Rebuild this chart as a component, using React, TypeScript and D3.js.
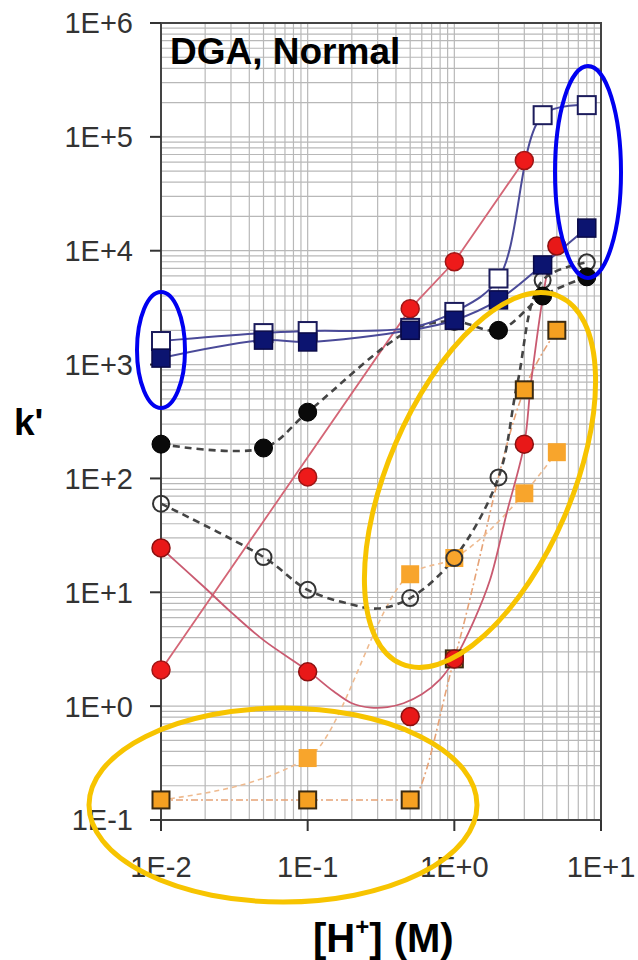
import React from 'react';
import * as d3 from 'd3';

// ---- data ----
const hAll = [0.01, 0.05, 0.1, 0.5, 1, 2, 4, 8];
const openSquareK = [1610, 1890, 1970, 2100, 2900, 5700, 155000, 190000];
const filledSquareK = [1140, 1640, 1580, 2000, 2450, 3700, 7500, 15800];
const blackCircleK = [200, 185, 382, 2000, 2400, 2000, 4000, 5900];
const openCircleK = [60, 20.4, 10.5, 8.9, 20, 102, 5500, 7900];
const openCircleFitH = [0.01, 0.05, 0.1, 0.2, 0.3, 0.5, 1, 2, 2.7, 4, 8];
const openCircleFitK = [60, 20.4, 10.5, 7.8, 7.2, 8.9, 20, 102, 700, 5500, 7900];

const redLineH = [0.01, 0.1, 0.5, 1, 3];
const redLineK = [2.08, 103, 3100, 8000, 62000];
const redLineFitH = [0.01, 0.5, 1, 3];
const redLineFitK = [2.08, 3100, 8000, 62000];

const redCurveH = [0.01, 0.1, 0.5, 1, 3, 5];
const redCurveK = [24.5, 2.0, 0.81, 2.6, 200, 11000];
const redCurveFitH = [0.01, 0.02, 0.03, 0.05, 0.1, 0.15, 0.2, 0.27, 0.35, 0.45, 0.6, 0.8, 1, 1.35, 1.75, 2.28, 3, 3.35, 4.45, 5];
const redCurveFitK = [24.5, 10.9, 6.7, 3.8, 2.05, 1.35, 1.06, 0.97, 0.98, 1.06, 1.27, 1.72, 2.55, 5.5, 12.8, 50, 200, 730, 7800, 11000];

const orangeOutlinedH = [0.01, 0.1, 0.5, 1, 3, 5];
const orangeOutlinedK = [0.15, 0.15, 0.15, 2.6, 600, 2000];
const orangeLightH = [0.01, 0.1, 0.5, 1, 3, 5];
const orangeLightK = [0.15, 0.35, 14.4, 20, 74, 170];

const xTickValues = [0.01, 0.1, 1, 10];
const xTickLabels = ['1E-2', '1E-1', '1E+0', '1E+1'];
const yTickValues = [0.1, 1, 10, 100, 1000, 10000, 100000, 1000000];
const yTickLabels = ['1E-1', '1E+0', '1E+1', '1E+2', '1E+3', '1E+4', '1E+5', '1E+6'];

const title = 'DGA, Normal';
const yTitle = "k'";

type P = [number, number];
const zip = (a: number[], b: number[]): P[] => a.map((v, i) => [v, b[i]]);

export default function App() {
  const W = 638, Hh = 960;
  const left = 161, right = 601, top = 23, bottom = 820;
  const x = d3.scaleLog().domain([0.01, 10]).range([left, right]);
  const y = d3.scaleLog().domain([0.1, 1e6]).range([bottom, top]);

  const curve = d3.line<P>().x(d => x(d[0])).y(d => y(d[1])).curve(d3.curveCatmullRom.alpha(0.5));
  const mono = d3.line<P>().x(d => x(d[0])).y(d => y(d[1])).curve(d3.curveMonotoneX);
  const straight = d3.line<P>().x(d => x(d[0])).y(d => y(d[1]));

  // minor grid values
  const xGrid: number[] = [];
  for (let e = -2; e < 1; e++) for (let m = 1; m <= 9; m++) xGrid.push(m * Math.pow(10, e));
  xGrid.push(10);
  const yGrid: number[] = [];
  for (let e = -1; e < 6; e++) for (let m = 1; m <= 9; m++) yGrid.push(m * Math.pow(10, e));
  yGrid.push(1e6);

  const font = 'Liberation Sans, Arial, Helvetica, sans-serif';

  const square = (d: P, i: number, fill: string, stroke: string, sw: number, s = 18) => (
    <rect key={i} x={x(d[0]) - s / 2} y={y(d[1]) - s / 2} width={s} height={s} fill={fill} stroke={stroke} strokeWidth={sw} />
  );
  const circle = (d: P, i: number, fill: string, stroke: string, sw: number, r = 9) => (
    <circle key={i} cx={x(d[0])} cy={y(d[1])} r={r} fill={fill} stroke={stroke} strokeWidth={sw} />
  );

  const openSq = zip(hAll, openSquareK);
  const filledSq = zip(hAll, filledSquareK);
  const blackC = zip(hAll, blackCircleK);
  const openC = zip(hAll, openCircleK);
  const openCFit = zip(openCircleFitH, openCircleFitK);
  const redL = zip(redLineH, redLineK);
  const redLFit = zip(redLineFitH, redLineFitK);
  const redC = zip(redCurveH, redCurveK);
  const redCFit = zip(redCurveFitH, redCurveFitK);
  const orA = zip(orangeOutlinedH, orangeOutlinedK);
  const orB = zip(orangeLightH, orangeLightK);

  return (
    <svg width={W} height={Hh} style={{ position: 'absolute', left: 0, top: 0, background: '#fff' }}>
      <rect x={0} y={0} width={W} height={Hh} fill="#fff" />
      {/* grid */}
      <g stroke="#b8b8b8" strokeWidth={1.2}>
        {xGrid.map((v, i) => <line key={'xg' + i} x1={x(v)} x2={x(v)} y1={top} y2={bottom} />)}
        {yGrid.map((v, i) => <line key={'yg' + i} x1={left} x2={right} y1={y(v)} y2={y(v)} />)}
      </g>
      {/* frame */}
      <rect x={left} y={top} width={right - left} height={bottom - top} fill="none" stroke="#444" strokeWidth={2} />
      {/* ticks */}
      <g stroke="#333" strokeWidth={2}>
        {yTickValues.map((v, i) => <line key={'yt' + i} x1={left - 11} x2={left} y1={y(v)} y2={y(v)} />)}
        {xTickValues.map((v, i) => <line key={'xt' + i} x1={x(v)} x2={x(v)} y1={bottom} y2={bottom + 11} />)}
      </g>
      <g fontFamily={font} fontSize={29} fill="#333">
        {yTickValues.map((v, i) => (
          <text key={'yl' + i} x={133} y={y(v)} dy="0.36em" textAnchor="end">{yTickLabels[i]}</text>
        ))}
        {xTickValues.map((v, i) => (
          <text key={'xl' + i} x={x(v)} y={877} textAnchor="middle">{xTickLabels[i]}</text>
        ))}
      </g>

      {/* lines */}
      <g fill="none">
        <path d={mono(orA) || ''} stroke="#e6a276" strokeWidth={1.6} strokeDasharray="7 3 2 3" />
        <path d={mono(orB) || ''} stroke="#efbb90" strokeWidth={1.6} strokeDasharray="5 4" />
        <path d={straight(redLFit) || ''} stroke="#d46676" strokeWidth={1.8} />
        <path d={curve(redCFit) || ''} stroke="#c95a70" strokeWidth={1.8} />
        <path d={curve(openCFit) || ''} stroke="#444" strokeWidth={2.6} strokeDasharray="7 5" />
        <path d={curve(blackC) || ''} stroke="#444" strokeWidth={2.6} strokeDasharray="7 5" />
        <path d={curve(openSq) || ''} stroke="#4a4a98" strokeWidth={2} />
        <path d={curve(filledSq) || ''} stroke="#4a4a98" strokeWidth={2} />
      </g>

      {/* markers */}
      <g>{orB.slice(1).map((d, i) => square(d, i, '#f8a52c', 'none', 0, 18))}</g>
      <g>{orA.map((d, i) => square(d, i, '#f5a021', '#3a2a12', 2, 17))}</g>
      <g>{openC.map((d, i) => circle(d, i, 'none', '#333', 2, 8))}</g>
      <g>{redL.map((d, i) => circle(d, i, '#ee1a1a', '#a01515', 1.5, 9))}</g>
      <g>{redC.map((d, i) => circle(d, i, '#e81818', '#8a1010', 1.5, 9))}</g>
      <g>{blackC.map((d, i) => circle(d, i, '#0a0a0a', '#000', 1, 9))}</g>
      <g>{openSq.map((d, i) => square(d, i, '#fff', '#1c1c5c', 2, 18))}</g>
      <g>{filledSq.map((d, i) => square(d, i, '#0c1470', '#0a0a48', 1.5, 18))}</g>

      {/* annotation ellipses */}
      <g fill="none">
        <ellipse cx={161} cy={350} rx={24} ry={58} stroke="#0000f0" strokeWidth={4} />
        <ellipse cx={588} cy={172} rx={33} ry={106} stroke="#0000f0" strokeWidth={4} />
        <ellipse cx={283} cy={805} rx={194} ry={97} stroke="#f7c400" strokeWidth={5} />
        <ellipse cx={480} cy={480} rx={92} ry={200} transform="rotate(23.2 480 480)" stroke="#f7c400" strokeWidth={5} />
      </g>

      {/* titles */}
      <text x={170} y={64} fontFamily={font} fontWeight="bold" fontSize={37} fill="#000">{title}</text>
      <text x={14} y={435} fontFamily={font} fontWeight="bold" fontSize={37} fill="#000">{yTitle}</text>
      <text x={313} y={952} fontFamily={font} fontWeight="bold" fontSize={40} fill="#000">
        [H<tspan fontSize={24} dy={-17}>+</tspan><tspan dy={17}>] (M)</tspan>
      </text>
    </svg>
  );
}
